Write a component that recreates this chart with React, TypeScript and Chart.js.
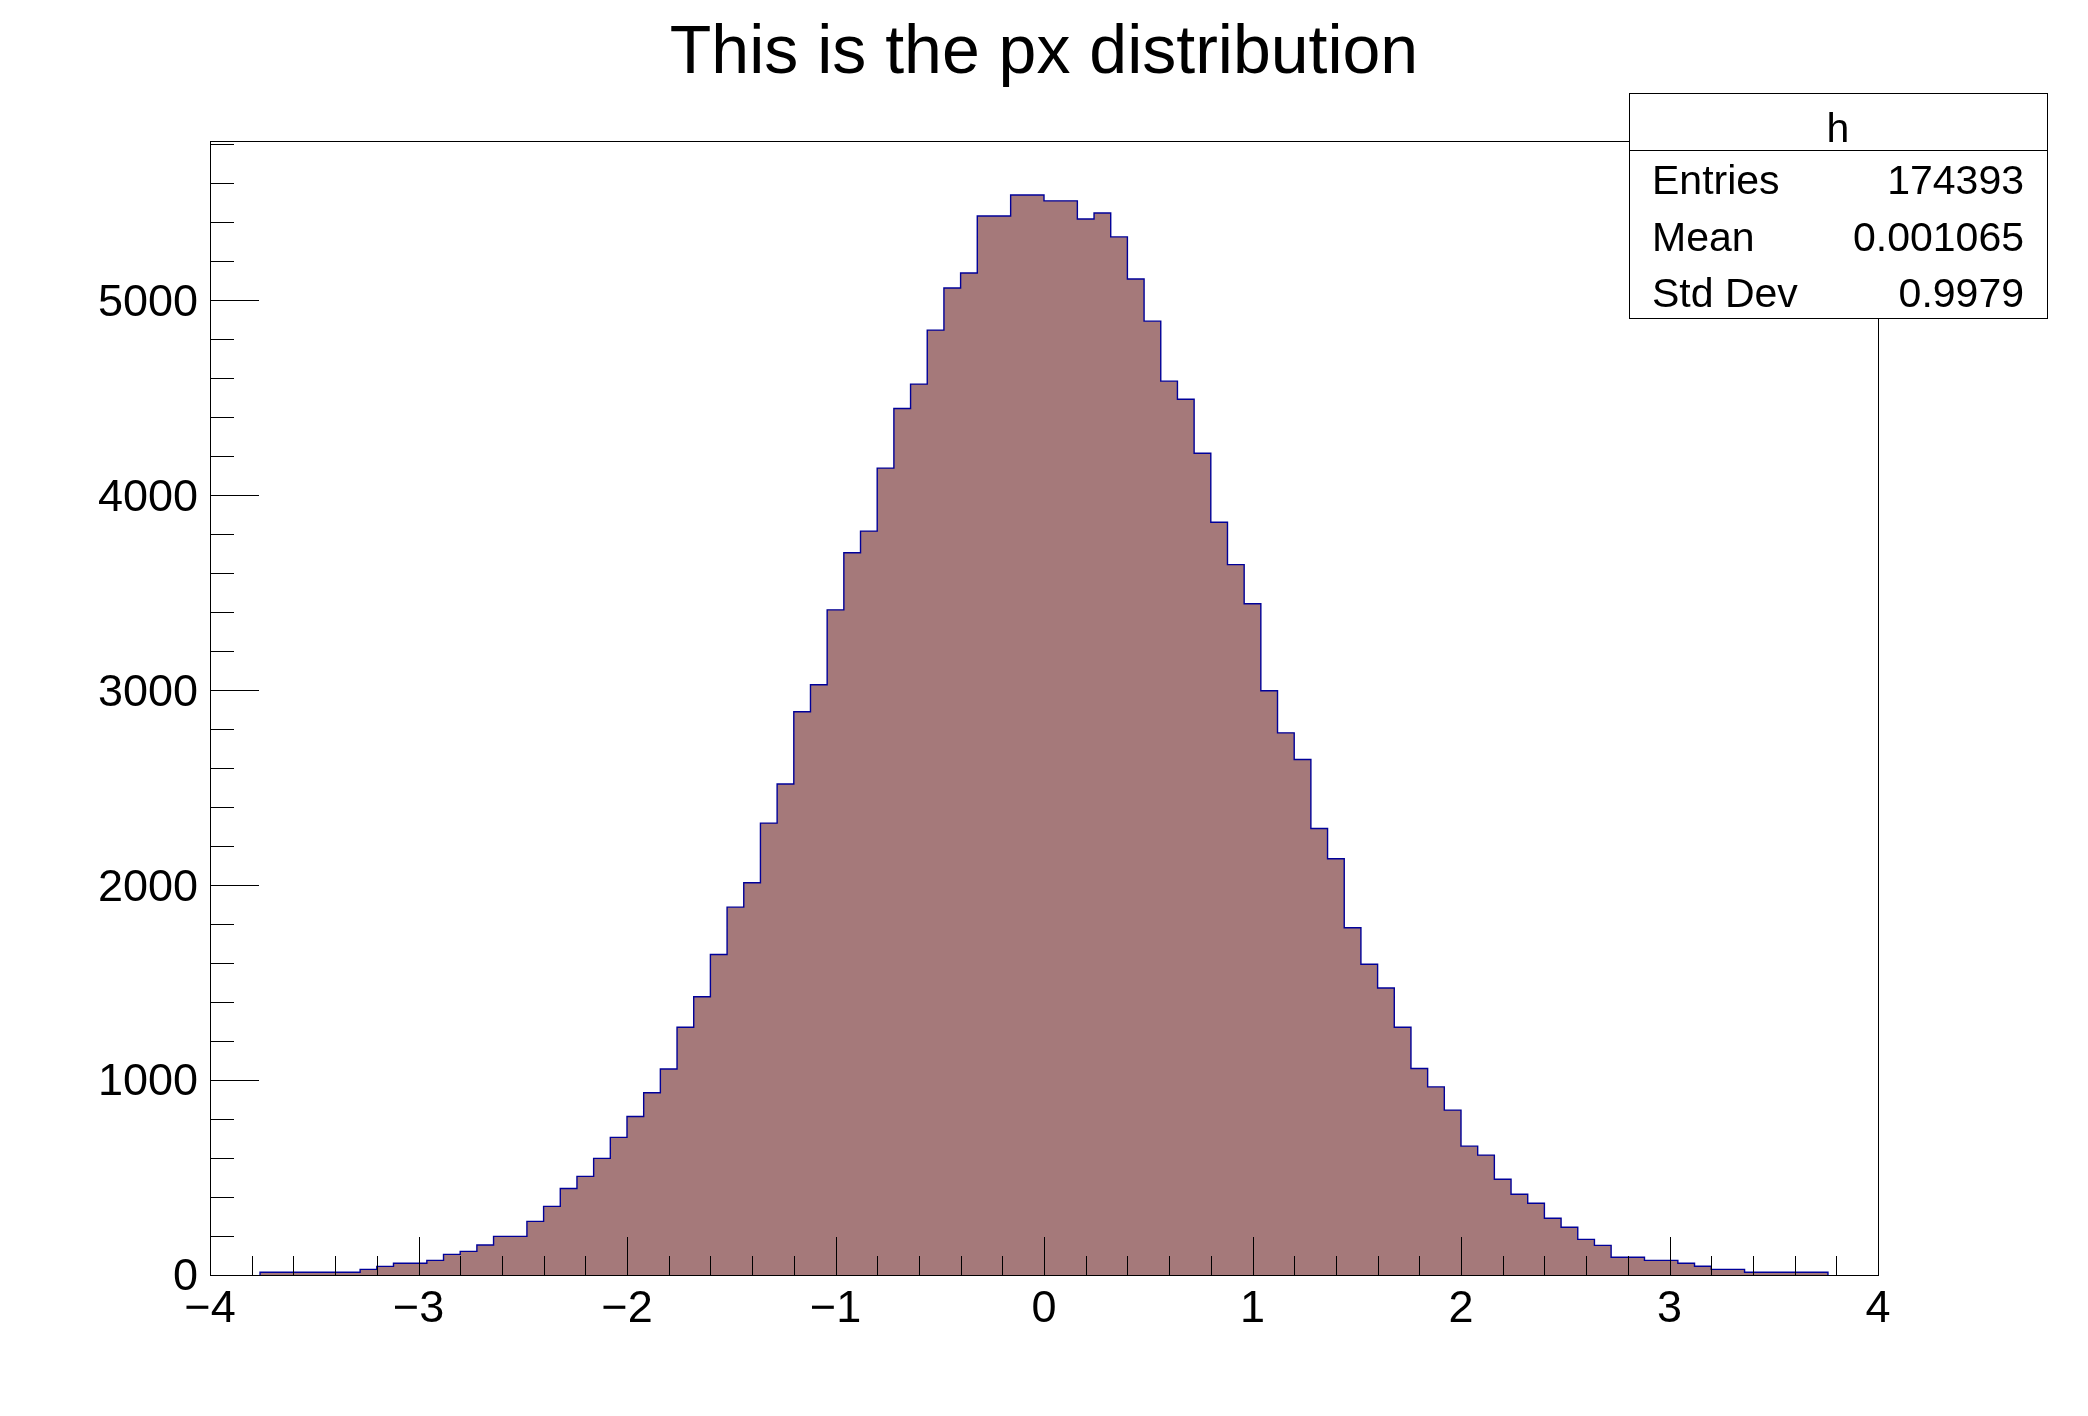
import { useEffect, useRef } from 'react';
import { Chart, registerables } from 'chart.js';

Chart.register(...registerables);

const histTitle = 'This is the px distribution';
const histName = 'h';
const xLow = -4;
const xHigh = 4;
const binWidth = 0.08;
// bin contents, 100 bins from -4 to 4
const counts = [
  0, 0, 0, 14, 14, 14, 14, 14, 14, 29,
  44, 60, 60, 75, 106, 121, 154, 198, 198, 275,
  352, 444, 506, 598, 706, 813, 935, 1057, 1271, 1427,
  1644, 1887, 2012, 2318, 2519, 2889, 3028, 3412, 3705, 3816,
  4139, 4445, 4570, 4847, 5063, 5140, 5432, 5432, 5540, 5540,
  5510, 5510, 5417, 5448, 5325, 5109, 4893, 4585, 4492, 4215,
  3861, 3644, 3443, 2997, 2781, 2644, 2290, 2135, 1781, 1594,
  1472, 1271, 1059, 965, 846, 661, 615, 491, 414, 368,
  291, 245, 183, 152, 91, 91, 75, 75, 60, 45,
  29, 29, 14, 14, 14, 14, 14, 0, 0, 0,
];
const xTicks = [-4, -3, -2, -1, 0, 1, 2, 3, 4];
const yTicks = [0, 1000, 2000, 3000, 4000, 5000];
const xMinorStep = 0.2;
const yMinorStep = 200;
const statLabels = ['Entries', 'Mean', 'Std Dev'];
const statValues = ['174393', '0.001065', '0.9979'];

const FONT = '"Liberation Sans", Arial, Helvetica, sans-serif';
const fillColor = '#a5797a';
const lineColor = '#000099';

const rootDecor = {
  id: 'rootDecor',
  afterDatasetsDraw(chart: any) {
    const { ctx, chartArea: a, scales } = chart;
    const xs = scales.x;
    const ys = scales.y;
    ctx.save();
    ctx.strokeStyle = '#000';
    ctx.lineWidth = 1;
    ctx.beginPath();
    // x ticks, drawn inward
    const nx = Math.round((xHigh - xLow) / xMinorStep);
    for (let k = 0; k <= nx; k++) {
      const v = xLow + k * xMinorStep;
      const px = Math.round(xs.getPixelForValue(v)) + 0.5;
      const len = k % 5 === 0 ? 38 : 19;
      ctx.moveTo(px, a.bottom);
      ctx.lineTo(px, a.bottom - len);
    }
    // y ticks, drawn inward
    for (let k = 0; k * yMinorStep <= ys.max; k++) {
      const v = k * yMinorStep;
      const py = Math.round(ys.getPixelForValue(v)) + 0.5;
      const len = k % 5 === 0 ? 49 : 24;
      ctx.moveTo(a.left, py);
      ctx.lineTo(a.left + len, py);
    }
    ctx.stroke();
    // frame
    ctx.strokeRect(Math.round(a.left) + 0.5, Math.round(a.top) + 0.5,
      Math.round(a.right - a.left), Math.round(a.bottom - a.top));

    // stats box
    const bx = 1629, by = 93, bw = 418, bh = 225;
    ctx.fillStyle = '#fff';
    ctx.fillRect(bx, by, bw, bh);
    ctx.strokeRect(bx + 0.5, by + 0.5, bw, bh);
    ctx.beginPath();
    ctx.moveTo(bx, by + 57.5);
    ctx.lineTo(bx + bw, by + 57.5);
    ctx.stroke();
    ctx.fillStyle = '#000';
    ctx.font = `41px ${FONT}`;
    ctx.textBaseline = 'alphabetic';
    ctx.textAlign = 'center';
    ctx.fillText(histName, bx + bw / 2, 142);
    statLabels.forEach((lab, i) => {
      const base = 194 + i * 56.5;
      ctx.textAlign = 'left';
      ctx.fillText(lab, 1652, base);
      ctx.textAlign = 'right';
      ctx.fillText(statValues[i], 2024, base);
    });

    // title
    ctx.font = `68px ${FONT}`;
    ctx.textAlign = 'center';
    ctx.fillText(histTitle, 1044, 73);
    ctx.restore();
  },
};

export default function App() {
  const canvasRef = useRef<HTMLCanvasElement>(null);

  useEffect(() => {
    const canvas = canvasRef.current;
    if (!canvas) return;
    const ctx = canvas.getContext('2d');
    if (!ctx) return;

    // step outline over the filled bins: rise at the first edge, drop at the last
    const first = counts.findIndex((c) => c > 0);
    let last = counts.length - 1;
    while (last > first && counts[last] === 0) last--;
    const edge = (i: number) => xLow + i * binWidth;
    const points = [{ x: edge(first), y: 0 }];
    for (let i = first; i <= last; i++) points.push({ x: edge(i), y: counts[i] });
    points.push({ x: edge(last + 1), y: 0 });
    const yMax = Math.max(...counts) * 1.05;

    const chart = new Chart(ctx, {
      type: 'line',
      data: {
        datasets: [{
          label: histName,
          data: points,
          stepped: 'before',
          borderColor: lineColor,
          borderWidth: 1.4,
          backgroundColor: fillColor,
          fill: 'origin',
          pointRadius: 0,
        }],
      },
      options: {
        animation: false,
        responsive: false,
        devicePixelRatio: 1,
        layout: { padding: { left: 0, top: 141, right: 210, bottom: 0 } },
        plugins: {
          legend: { display: false },
          title: { display: false },
          tooltip: { enabled: false },
        },
        scales: {
          x: {
            type: 'linear',
            min: xLow,
            max: xHigh,
            grid: { display: false, drawTicks: false },
            border: { display: false },
            afterBuildTicks: (s: any) => { s.ticks = xTicks.map((v) => ({ value: v })); },
            afterFit: (s: any) => { s.height = 141; },
            ticks: {
              padding: 8,
              maxRotation: 0,
              autoSkip: false,
              color: '#000',
              font: { family: FONT, size: 45 },
              callback: (v: any) => (Number(v) < 0 ? '\u2212' + Math.abs(Number(v)) : String(v)),
            },
          },
          y: {
            type: 'linear',
            min: 0,
            max: yMax,
            grid: { display: false, drawTicks: false },
            border: { display: false },
            afterBuildTicks: (s: any) => { s.ticks = yTicks.map((v) => ({ value: v })); },
            afterFit: (s: any) => { s.width = 210; },
            ticks: {
              padding: 12,
              labelOffset: 3,
              autoSkip: false,
              color: '#000',
              font: { family: FONT, size: 45 },
              callback: (v: any) => String(v),
            },
          },
        },
      },
      plugins: [rootDecor],
    });
    return () => {
      chart.destroy();
    };
  }, []);

  return (
    <div style={{ position: 'absolute', left: 0, top: 0, width: 2088, height: 1416, background: '#fff' }}>
      <canvas ref={canvasRef} width={2088} height={1416} style={{ width: 2088, height: 1416, display: 'block' }} />
    </div>
  );
}
